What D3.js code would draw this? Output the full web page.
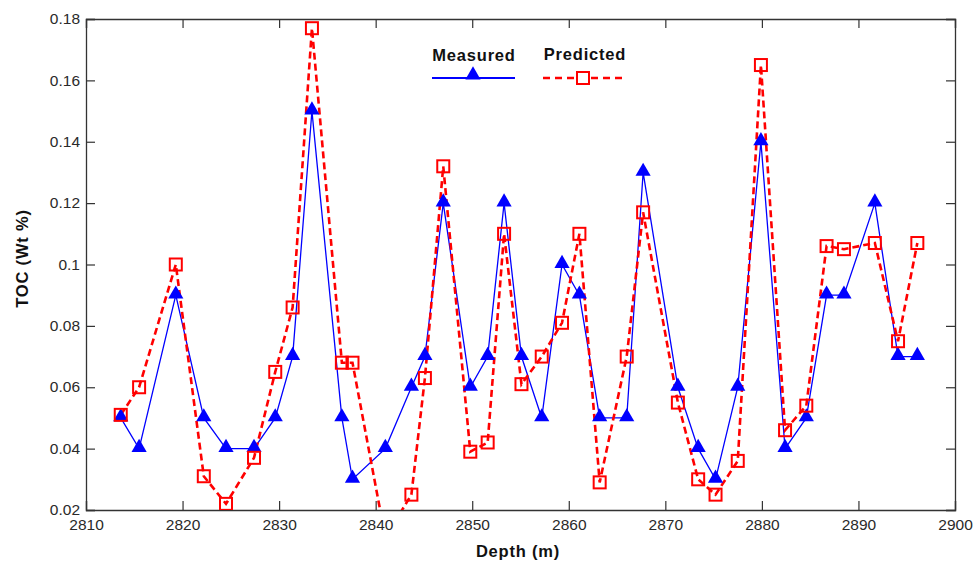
<!DOCTYPE html>
<html><head><meta charset="utf-8">
<script src="https://cdn.jsdelivr.net/npm/d3@7"></script>
<style>body{margin:0;background:#fff;} svg{display:block;font-family:"Liberation Sans",Arial,sans-serif;}</style>
</head><body>
<svg id="chart" width="978" height="566"></svg>
<script>
const depths = [2813.6,2815.5,2819.3,2822.2,2824.5,2827.4,2829.6,2831.4,2833.4,2836.5,2837.6,2841.0,2843.7,2845.1,2847.0,2849.8,2851.6,2853.3,2855.1,2857.2,2859.3,2861.1,2863.2,2866.0,2867.7,2871.3,2873.4,2875.2,2877.5,2879.9,2882.4,2884.6,2886.7,2888.5,2891.7,2894.1,2896.1];
const measured = [0.05,0.04,0.09,0.05,0.04,0.04,0.05,0.07,0.15,0.05,0.03,0.04,0.06,0.07,0.12,0.06,0.07,0.12,0.07,0.05,0.10,0.09,0.05,0.05,0.13,0.06,0.04,0.03,0.06,0.14,0.04,0.05,0.09,0.09,0.12,0.07,0.07];
const predicted = [0.051,0.060,0.100,0.031,0.022,0.037,0.065,0.086,0.177,0.068,0.068,0.011,0.025,0.063,0.132,0.039,0.042,0.110,0.061,0.070,0.081,0.110,0.029,0.070,0.117,0.055,0.030,0.025,0.036,0.165,0.046,0.054,0.106,0.105,0.107,0.075,0.107];
const xTicks = [2810,2820,2830,2840,2850,2860,2870,2880,2890,2900];
const yTicks = [0.02,0.04,0.06,0.08,0.10,0.12,0.14,0.16,0.18];
const yTickLabels = ["0.02","0.04","0.06","0.08","0.1","0.12","0.14","0.16","0.18"];
const seriesNames = ["Measured","Predicted"];

const svg = d3.select("#chart");
const L=86, R=955, T=19, B=510;
const x = d3.scaleLinear().domain([2810,2900]).range([L,R]);
const y = d3.scaleLinear().domain([0.02,0.18]).range([B,T]);
const axisColor="#333";

svg.append("defs").append("clipPath").attr("id","clip")
  .append("rect").attr("x",L).attr("y",T).attr("width",R-L).attr("height",B-T);

const tickLen=9;
const gx = svg.append("g").attr("transform",`translate(0,${B})`)
  .call(d3.axisBottom(x).tickValues(xTicks).tickSize(-tickLen).tickPadding(10).tickFormat(d3.format("d")));
const gxt = svg.append("g").attr("transform",`translate(0,${T})`)
  .call(d3.axisTop(x).tickValues(xTicks).tickSize(-tickLen).tickFormat(""));
const gy = svg.append("g").attr("transform",`translate(${L},0)`)
  .call(d3.axisLeft(y).tickValues(yTicks).tickSize(-tickLen).tickPadding(6).tickFormat((d,i)=>yTickLabels[i]));
const gyr = svg.append("g").attr("transform",`translate(${R},0)`)
  .call(d3.axisRight(y).tickValues(yTicks).tickSize(-tickLen).tickFormat(""));
[gx,gxt,gy,gyr].forEach(g=>{
  g.select(".domain").attr("stroke",axisColor).attr("stroke-width",1.3);
  g.selectAll(".tick line").attr("stroke",axisColor).attr("stroke-width",1.2);
  g.selectAll(".tick text").attr("fill","#2a2a2a").style("font-size","15.5px").style("font-family","'Liberation Sans',Arial,sans-serif");
});
gx.selectAll(".tick text").attr("dy","0.62em");
gy.selectAll(".tick text").attr("dy","0.3em");

const data = depths.map((d,i)=>({d, m:measured[i], p:predicted[i]}));
const plot = svg.append("g").attr("clip-path","url(#clip)");

const tri = d3.symbol().type(d3.symbolTriangle).size(100);

plot.append("path").datum(data)
  .attr("d", d3.line().x(v=>x(v.d)).y(v=>y(v.m)))
  .attr("fill","none").attr("stroke","#0000ff").attr("stroke-width",1.3);
plot.append("path").datum(data)
  .attr("d", d3.line().x(v=>x(v.d)).y(v=>y(v.p)))
  .attr("fill","none").attr("stroke","#ff0000").attr("stroke-width",2.6).attr("stroke-dasharray","7,4");

plot.selectAll(".tri").data(data).enter().append("path")
  .attr("transform",v=>`translate(${x(v.d)},${y(v.m)-1})`)
  .attr("d",tri).attr("fill","#0000ff");
plot.selectAll(".sq").data(data).enter().append("rect")
  .attr("x",v=>x(v.d)-6).attr("y",v=>y(v.p)-6).attr("width",12).attr("height",12)
  .attr("fill","none").attr("stroke","#ff0000").attr("stroke-width",2);

const lg = svg.append("g");
const lgStyle = t=>t.style("font-size","16.5px").style("font-weight","bold").style("letter-spacing","0.8px").attr("fill","#111");
lg.append("text").attr("x",474).attr("y",61).attr("text-anchor","middle").call(lgStyle).text(seriesNames[0]);
lg.append("line").attr("x1",432).attr("x2",515).attr("y1",78).attr("y2",78).attr("stroke","#0000ff").attr("stroke-width",2);
lg.append("path").attr("transform","translate(473,75)").attr("d",tri).attr("fill","#0000ff");
lg.append("text").attr("x",585).attr("y",60).attr("text-anchor","middle").call(lgStyle).text(seriesNames[1]);
lg.append("line").attr("x1",543).attr("x2",625).attr("y1",78).attr("y2",78).attr("stroke","#ff0000").attr("stroke-width",2.6).attr("stroke-dasharray","7,5");
lg.append("rect").attr("x",577).attr("y",72).attr("width",12).attr("height",12).attr("fill","#fff").attr("stroke","#ff0000").attr("stroke-width",2);

svg.append("text").attr("x",518).attr("y",557).attr("text-anchor","middle").call(lgStyle).text("Depth (m)");
svg.append("text").attr("transform",`translate(28,${(T+B)/2-6}) rotate(-90)`).attr("text-anchor","middle").call(lgStyle).text("TOC (Wt %)");
</script>
</body></html>
